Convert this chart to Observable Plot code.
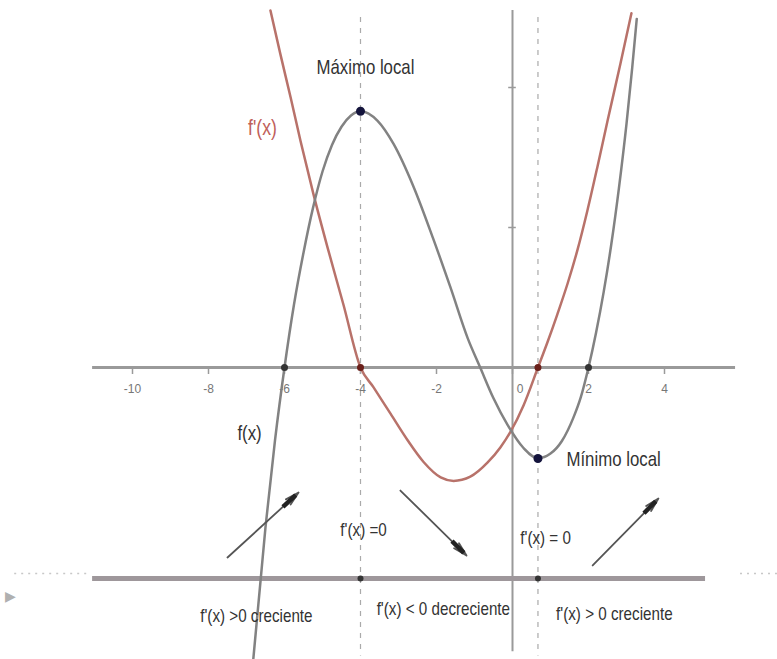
<!DOCTYPE html>
<html>
<head>
<meta charset="utf-8">
<script src="https://cdn.jsdelivr.net/npm/d3@7"></script>
<script src="https://cdn.jsdelivr.net/npm/@observablehq/plot@0.6"></script>
<style>
  html, body { margin: 0; padding: 0; background: #ffffff; }
  #chart svg { display: block; }
</style>
</head>
<body>
<div id="chart"></div>
<script>
// ---- data (x in axis units, y in units of the y-axis ticks) ----
const fX = [-6.82,-6.5,-6.25,-6,-5.75,-5.5,-5.25,-5,-4.75,-4.5,-4.25,-4,-3.55,-3.13,-2.61,-2.08,-1.63,-1.18,-0.85,-0.5,-0.13,0.29,0.67,1.0,1.3,1.6,1.8,2,2.2,2.4,2.6,2.8,3.0,3.15,3.27];
const fY = [-2.08,-1.14,-0.52,0,0.45,0.82,1.14,1.4,1.59,1.72,1.8,1.83,1.762,1.597,1.295,0.915,0.57,0.21,0,-0.22,-0.41,-0.575,-0.648,-0.615,-0.525,-0.36,-0.21,0,0.25,0.54,0.88,1.28,1.74,2.14,2.49];

const dX = [-6.37,-6.11,-5.84,-5.58,-5.24,-4.87,-4.45,-4,-3.66,-3.21,-2.76,-2.34,-1.89,-1.55,-1.11,-0.66,-0.32,-0.05,0.29,0.67,0.92,1.18,1.45,1.71,1.97,2.24,2.5,2.84,3.13];
const dY = [2.55,2.24,1.93,1.62,1.24,0.86,0.45,0,-0.14,-0.33,-0.52,-0.675,-0.785,-0.81,-0.78,-0.68,-0.571,-0.458,-0.271,0,0.18,0.38,0.6,0.84,1.12,1.44,1.76,2.17,2.53];

const xTicks = [-10,-8,-6,-4,-2,0,2,4];
const xTickLabels = ["-10","-8","-6","-4","-2","0","2","4"];
const yTicks = [1,2];

const fZerosX = [-6, 2];
const dZerosX = [-4, 0.67];
const extremaX = [-4, 0.67];
const extremaY = [1.83, -0.65];
const signLineY = -1.507;

const arrowX1 = [-7.5, -2.95, 2.11];
const arrowY1 = [-1.357, -0.879, -1.414];
const arrowX2 = [-5.63, -1.21, 3.84];
const arrowY2 = [-0.893, -1.343, -0.936];

const headText = ["Máximo local","Mínimo local","f(x)"];
const headX = [-3.87, 2.66, -6.92];
const headY = [2.143, -0.657, -0.471];
const noteText = ["f'(x) =0","f'(x) = 0","f'(x) >0 creciente","f'(x) < 0 decreciente","f'(x) > 0 creciente"];
const noteX = [-3.92, 0.87, -6.74, -1.82, 2.68];
const noteY = [-1.157, -1.214, -1.771, -1.721, -1.757];
const redLabel = ["f'(x)"];
const redLabelX = [-6.58];
const redLabelY = [1.714];

// ---- chart ----
const FONT = "'Liberation Sans', Arial, sans-serif";
const idx = n => d3.range(n);
const headFrac = 0.22;

const chart = Plot.plot({
  width: 777,
  height: 659,
  margin: 0,
  x: { domain: [-512 / 38, (777 - 512) / 38], axis: null },
  y: { domain: [-(659 - 367) / 140, 367 / 140], axis: null },
  style: { background: "#ffffff" },
  marks: [
    // dotted continuations of the sign line
    Plot.ruleY([signLineY + 0.035], { x1: -13.1, x2: -11.2, stroke: "#c8c8c8", strokeWidth: 1.5, strokeDasharray: "2,5" }),
    Plot.ruleY([signLineY + 0.035], { x1: 6.0, x2: 7.0, stroke: "#c8c8c8", strokeWidth: 1.5, strokeDasharray: "2,5" }),
    // x axis
    Plot.ruleY([0], { x1: -11.05, x2: 5.87, stroke: "#9a9a9a", strokeWidth: 3 }),
    Plot.ruleX(xTicks, { y1: 0, y2: -0.05, stroke: "#9a9a9a", strokeWidth: 1.5 }),
    Plot.text(idx(xTicks.length), { x: i => xTicks[i] + (xTicks[i] === 0 ? 0.2 : 0), y: 0, dy: 22, text: i => xTickLabels[i], fill: "#777", fontSize: 12, fontFamily: FONT }),
    // y axis
    Plot.ruleX([0], { y1: 2.55, y2: -2.03, stroke: "#9a9a9a", strokeWidth: 2 }),
    Plot.ruleY(yTicks, { x1: -0.1, x2: 0.1, stroke: "#9a9a9a", strokeWidth: 1.5 }),
    // dashed verticals
    Plot.ruleX(extremaX, { y1: 2.5, y2: -2.06, stroke: "#aaaaaa", strokeWidth: 1.2, strokeDasharray: "5,6" }),
    // sign line
    Plot.ruleY([signLineY], { x1: -11.05, x2: 5.08, stroke: "#9e979b", strokeWidth: 5 }),
    // curves
    Plot.line(idx(dX.length), { x: i => dX[i], y: i => dY[i], curve: "monotone-x", stroke: "#b8726a", strokeWidth: 2.5 }),
    Plot.line(idx(fX.length), { x: i => fX[i], y: i => fY[i], curve: "monotone-x", stroke: "#828282", strokeWidth: 2.5 }),
    // points
    Plot.dot(fZerosX, { x: d => d, y: 0, r: 3.5, fill: "#333", stroke: "none" }),
    Plot.dot(dZerosX, { x: d => d, y: 0, r: 3.5, fill: "#6a1f1a", stroke: "none" }),
    Plot.dot(dZerosX, { x: d => d, y: signLineY, r: 3, fill: "#333", stroke: "none" }),
    Plot.dot(idx(extremaX.length), { x: i => extremaX[i], y: i => extremaY[i], r: 4.5, fill: "#14143c", stroke: "none" }),
    // arrows: thin shaft plus a heavy head
    Plot.arrow(idx(arrowX1.length), { x1: i => arrowX1[i], y1: i => arrowY1[i], x2: i => arrowX2[i], y2: i => arrowY2[i], stroke: "#555", strokeWidth: 1.8, headLength: 12, headAngle: 28 }),
    Plot.link(idx(arrowX1.length), {
      x1: i => arrowX2[i] - headFrac * (arrowX2[i] - arrowX1[i]),
      y1: i => arrowY2[i] - headFrac * (arrowY2[i] - arrowY1[i]),
      x2: i => arrowX2[i] - 0.04 * (arrowX2[i] - arrowX1[i]),
      y2: i => arrowY2[i] - 0.04 * (arrowY2[i] - arrowY1[i]),
      stroke: "#222", strokeWidth: 4.5, strokeLinecap: "butt"
    }),
    // texts
    Plot.text(idx(headText.length), { x: i => headX[i], y: i => headY[i], text: i => headText[i], fill: "#333", fontSize: 21, fontFamily: FONT }),
    Plot.text(idx(noteText.length), { x: i => noteX[i], y: i => noteY[i], text: i => noteText[i], fill: "#333", fontSize: 19, fontFamily: FONT }),
    Plot.text(idx(redLabel.length), { x: i => redLabelX[i], y: i => redLabelY[i], text: i => redLabel[i], fill: "#c0605a", fontSize: 22, fontFamily: FONT }),
    // small grey marker on the left edge
    Plot.text(["▶"], { x: -13.2, y: signLineY - 0.13, text: d => d, fill: "#b0b0b0", fontSize: 14 })
  ]
});

document.getElementById("chart").appendChild(chart);

// narrow the annotation lettering like the condensed face of the original
d3.select(chart).selectAll("text").each(function () {
  const size = parseFloat(getComputedStyle(this).fontSize);
  if (size >= 18) {
    const w = this.getComputedTextLength();
    this.setAttribute("textLength", (w * 0.8).toFixed(1));
    this.setAttribute("lengthAdjust", "spacingAndGlyphs");
  }
});
</script>
</body>
</html>
